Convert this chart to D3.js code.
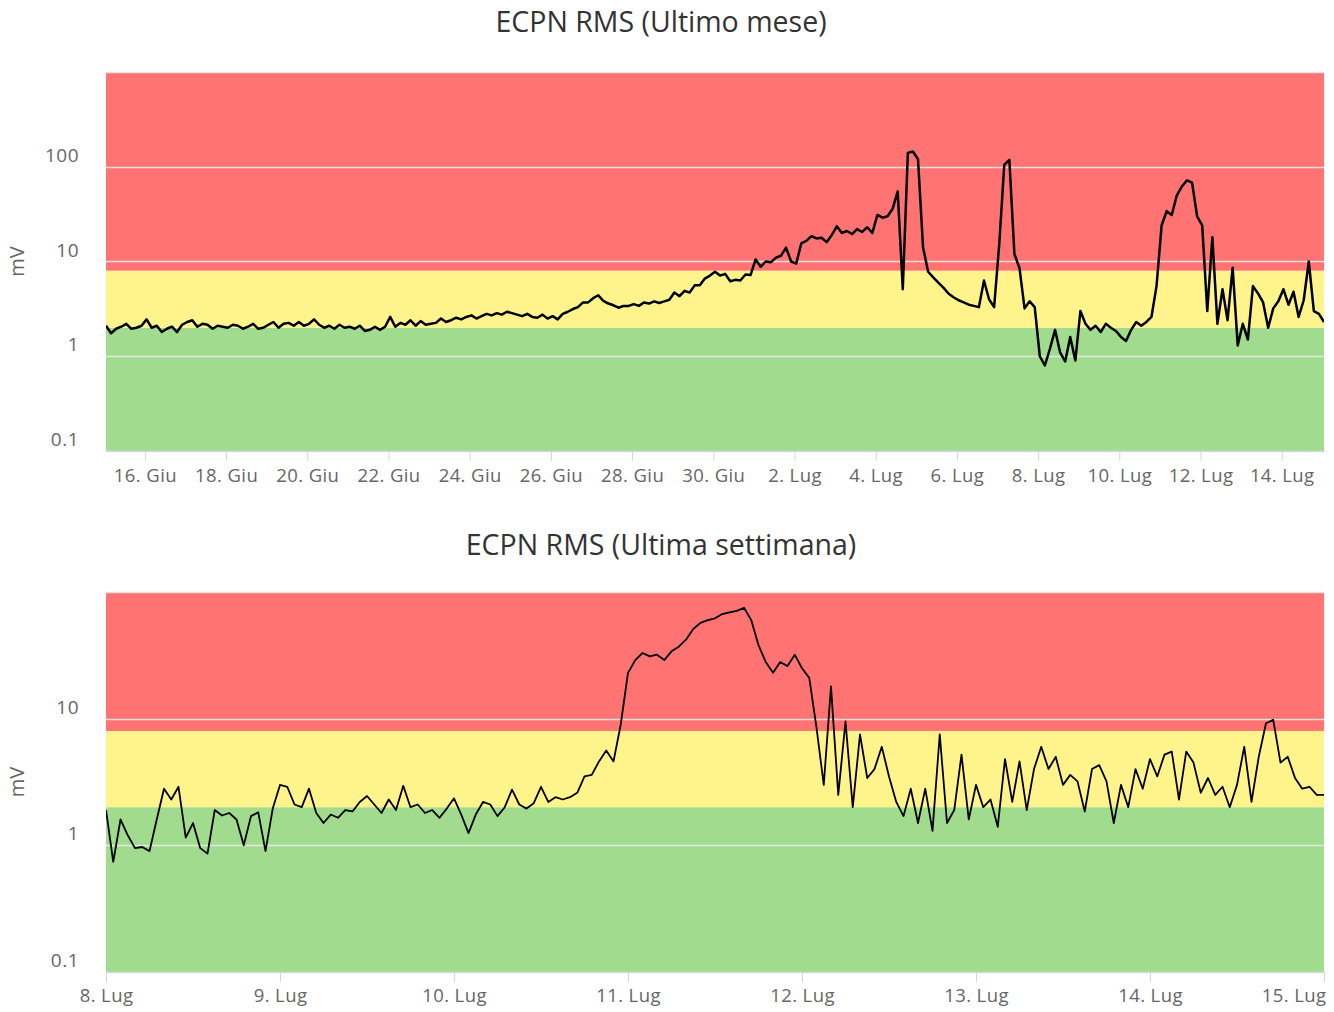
<!DOCTYPE html>
<html>
<head>
<meta charset="utf-8">
<script src="https://cdn.jsdelivr.net/npm/d3@7"></script>
<style>
  html, body { margin: 0; padding: 0; background: #ffffff; }
  svg { display: block; font-family: "Open Sans", "DejaVu Sans", sans-serif; }
</style>
</head>
<body>
<svg id="chart" width="1334" height="1012"></svg>
<script>
// ---------------- DATA ----------------
const monthTitle = "ECPN RMS (Ultimo mese)";
const weekTitle = "ECPN RMS (Ultima settimana)";
const yAxisTitle = "mV";
const monthNamesIt = ["Gen","Feb","Mar","Apr","Mag","Giu","Lug","Ago","Set","Ott","Nov","Dic"];

// thresholds of the coloured zones (mV)
const zoneLimits = [2, 8];

// Monthly series: one sample every 3 hours from 15 Jun 01:00
const monthStart = "2018-06-15 01:00";
const monthStepHours = 3;
const monthValues = [
  2.1, 1.75, 1.95, 2.05, 2.2, 1.95, 2.0, 2.1,
  2.45, 2.0, 2.1, 1.8, 1.95, 2.05, 1.8, 2.15,
  2.3, 2.4, 2.05, 2.2, 2.15, 1.95, 2.1, 2.05,
  2.0, 2.15, 2.1, 1.95, 2.05, 2.2, 1.95, 2.0,
  2.15, 2.3, 2.0, 2.2, 2.25, 2.1, 2.3, 2.1,
  2.2, 2.45, 2.15, 2.0, 2.1, 1.95, 2.15, 2.0,
  2.05, 1.95, 2.1, 1.85, 1.9, 2.05, 1.9, 2.05,
  2.6, 2.05, 2.25, 2.15, 2.4, 2.1, 2.35, 2.15,
  2.2, 2.25, 2.5, 2.3, 2.4, 2.55, 2.45, 2.6,
  2.7, 2.5, 2.65, 2.8, 2.7, 2.85, 2.75, 2.95,
  2.85, 2.75, 2.65, 2.8, 2.6, 2.55, 2.75, 2.5,
  2.65, 2.45, 2.8, 2.95, 3.15, 3.3, 3.7, 3.7,
  4.1, 4.4, 3.85, 3.6, 3.45, 3.25, 3.4, 3.4,
  3.55, 3.4, 3.7, 3.6, 3.8, 3.65, 3.8, 3.95,
  4.7, 4.3, 4.9, 4.7, 5.6, 5.6, 6.6, 7.1,
  7.8, 7.1, 7.4, 6.2, 6.4, 6.3, 7.3, 7.2,
  10.5, 8.8, 10.0, 9.8, 11.0, 11.5, 14.0, 10.0,
  9.5, 15.5, 16.5, 18.5, 17.5, 17.8, 16.0, 19.0,
  23.5, 20.0, 21.0, 19.5, 22.0, 20.5, 23.0, 20.0,
  31, 29, 30, 36, 55, 5.1, 140, 145,
  120, 14, 7.8, 6.8, 6.0, 5.3, 4.6, 4.2,
  3.9, 3.7, 3.5, 3.4, 3.3, 6.3, 4.0, 3.3,
  15, 105, 118, 12, 8.5, 3.2, 3.8, 3.3,
  1.0, 0.8, 1.2, 1.9, 1.1, 0.88, 1.6, 0.9,
  3.0, 2.2, 1.9, 2.1, 1.8, 2.2, 2.0, 1.85,
  1.6, 1.45, 1.9, 2.3, 2.1, 2.3, 2.6, 5.5,
  24, 34, 31, 50, 62, 72, 68, 30,
  24, 3.0, 18, 2.2, 5.1, 2.4, 8.6, 1.3,
  2.2, 1.5, 5.5, 4.6, 3.7, 2.0, 3.2, 3.8,
  5.1, 3.5, 4.8, 2.6, 3.9, 10.0, 3.0, 2.8,
  2.3
];
const monthTickDates = ["2018-06-16","2018-06-18","2018-06-20","2018-06-22","2018-06-24","2018-06-26",
  "2018-06-28","2018-06-30","2018-07-02","2018-07-04","2018-07-06","2018-07-08","2018-07-10",
  "2018-07-12","2018-07-14"];
const monthYTicks = [0.1, 1, 10, 100];
const monthYRange = [0.1, 1000];

// Weekly series: one sample every hour from 8 Jul 00:00
const weekStart = "2018-07-08 00:00";
const weekStepHours = 1;
const weekValues = [
  1.9, 0.74, 1.6, 1.2, 0.95, 0.97, 0.9, 1.6, 2.8, 2.3,
  2.9, 1.15, 1.5, 0.95, 0.86, 1.9, 1.72, 1.8, 1.6, 1.0,
  1.7, 1.82, 0.9, 1.95, 3.0, 2.9, 2.1, 2.0, 2.8, 1.8,
  1.5, 1.75, 1.65, 1.9, 1.85, 2.2, 2.45, 2.1, 1.8, 2.3,
  1.9, 2.95, 2.0, 2.1, 1.8, 1.9, 1.65, 1.95, 2.35, 1.75,
  1.25, 1.75, 2.2, 2.1, 1.7, 2.0, 2.75, 2.1, 1.95, 2.15,
  2.9, 2.2, 2.4, 2.3, 2.4, 2.6, 3.5, 3.6, 4.6, 5.6,
  4.6, 9.0, 23, 29, 33, 31, 32, 29, 34, 37,
  42, 51, 57, 60, 62, 67, 69, 71, 75, 60,
  38, 28, 23, 28, 26, 32, 25, 21, 8.5, 3.0,
  18, 2.5, 9.5, 2.0, 7.5, 3.4, 4.0, 6.0, 3.5, 2.2,
  1.7, 2.8, 1.5, 2.8, 1.3, 7.5, 1.5, 1.9, 5.2, 1.6,
  3.0, 2.0, 2.3, 1.4, 4.8, 2.2, 4.6, 1.9, 4.0, 6.0,
  4.0, 5.0, 3.0, 3.6, 3.2, 1.85, 4.0, 4.3, 3.2, 1.5,
  3.0, 2.0, 4.0, 2.8, 4.8, 3.5, 5.2, 5.5, 2.3, 5.5,
  4.5, 2.6, 3.4, 2.5, 2.9, 2.0, 3.0, 6.0, 2.2, 5.0,
  9.2, 9.8, 4.5, 5.0, 3.4, 2.8, 2.9, 2.5, 2.5
];
const weekTickDates = ["2018-07-08","2018-07-09","2018-07-10","2018-07-11","2018-07-12",
  "2018-07-13","2018-07-14","2018-07-15"];
const weekYTicks = [0.1, 1, 10];
const weekYRange = [0.1, 100];

// ---------------- DRAWING ----------------
const parseDT = d3.timeParse("%Y-%m-%d %H:%M");
const parseD = d3.timeParse("%Y-%m-%d");
const fmtTick = d => d.getDate() + ". " + monthNamesIt[d.getMonth()];
const fmtY = d => (d < 1 ? d3.format(".1f")(d) : d3.format("d")(d));

function buildSeries(start, stepH, values) {
  const t0 = parseDT(start);
  return values.map((v, i) => ({ t: d3.timeHour.offset(t0, i * stepH), v }));
}

const COLORS = { red: "#ff7373", yellow: "#fff48b", green: "#a0db8e" };
const svg = d3.select("#chart");
svg.append("rect").attr("width", 1334).attr("height", 1012).attr("fill", "#ffffff");

function drawChart(cfg) {
  const g = svg.append("g");
  const L = 106, R = 1324;
  const series = buildSeries(cfg.start, cfg.step, cfg.values);
  const x = d3.scaleTime().domain(d3.extent(series, d => d.t)).range([L, R]);
  if (cfg.xDomain) x.domain(cfg.xDomain);
  const y = d3.scaleLog().domain(cfg.yRange).range([cfg.bottom, cfg.top]);

  // title
  g.append("text").attr("x", 661).attr("y", cfg.titleY)
    .attr("text-anchor", "middle").attr("fill", "#333333")
    .attr("font-size", 28.5).text(cfg.title);

  // zone bands
  const zones = [
    { lo: cfg.yRange[0], hi: zoneLimits[0], c: COLORS.green },
    { lo: zoneLimits[0], hi: zoneLimits[1], c: COLORS.yellow },
    { lo: zoneLimits[1], hi: cfg.yRange[1], c: COLORS.red }
  ];
  g.selectAll("rect.zone").data(zones).join("rect")
    .attr("x", L).attr("width", R - L)
    .attr("y", d => y(d.hi)).attr("height", d => y(d.lo) - y(d.hi))
    .attr("fill", d => d.c);

  // grid lines at every decade
  const decades = y.ticks().filter(v => Math.abs(Math.log10(v) - Math.round(Math.log10(v))) < 1e-9);
  g.selectAll("line.grid").data(decades).join("line")
    .attr("x1", L).attr("x2", R)
    .attr("y1", d => Math.round(y(d)) + 0.5).attr("y2", d => Math.round(y(d)) + 0.5)
    .attr("stroke", "#ebebeb").attr("stroke-width", 1.5).attr("opacity", 0.9);

  // y labels
  g.selectAll("text.ylab").data(cfg.yTicks).join("text")
    .attr("x", 79).attr("y", d => y(d) - 5)
    .attr("text-anchor", "end").attr("fill", "#666666").attr("font-size", 19)
    .attr("letter-spacing", 0.5)
    .text(fmtY);

  // y axis title
  const yMid = (cfg.top + cfg.bottom) / 2;
  g.append("text").attr("transform", `translate(24,${yMid}) rotate(-90)`)
    .attr("text-anchor", "middle").attr("fill", "#666666").attr("font-size", 20)
    .text(yAxisTitle);

  // x axis via d3.axisBottom
  const ticks = cfg.xTicks.map(parseD);
  const axis = d3.axisBottom(x).tickValues(ticks).tickFormat(fmtTick)
    .tickSize(10).tickSizeOuter(0).tickPadding(cfg.tickPad);
  const ax = g.append("g").attr("transform", `translate(0,${cfg.bottom})`).call(axis);
  ax.select(".domain").attr("stroke", "#ccd6eb");
  ax.selectAll(".tick line").attr("stroke", "#ccd6eb");
  ax.selectAll(".tick text").attr("fill", "#666666").attr("font-size", 18.5)
    .attr("letter-spacing", 0.4)
    .attr("font-family", "\"Open Sans\", sans-serif");
  // justify last label inside the chart if it overflows
  ax.selectAll(".tick text").each(function(d) {
    const bb = this.getBBox();
    const px = x(d);
    if (px + bb.width / 2 > 1326) {
      d3.select(this).attr("text-anchor", "end").attr("x", 1326 - px);
    }
  });

  // clip
  const clipId = "clip" + cfg.top;
  g.append("clipPath").attr("id", clipId).append("rect")
    .attr("x", L).attr("y", cfg.top).attr("width", R - L).attr("height", cfg.bottom - cfg.top);

  const line = d3.line().x(d => x(d.t)).y(d => y(d.v)).curve(d3.curveLinear);
  g.append("path").datum(series)
    .attr("clip-path", `url(#${clipId})`)
    .attr("d", line).attr("fill", "none")
    .attr("stroke", "#000000").attr("stroke-width", cfg.lw)
    .attr("stroke-linejoin", "round");
}

drawChart({
  title: monthTitle, titleY: 32, top: 72, bottom: 451,
  start: monthStart, step: monthStepHours, values: monthValues,
  yRange: monthYRange, yTicks: monthYTicks, xTicks: monthTickDates, tickPad: 8, lw: 2.5
});
drawChart({
  title: weekTitle, titleY: 555, top: 592, bottom: 972,
  start: weekStart, step: weekStepHours, values: weekValues,
  xDomain: [parseD("2018-07-08"), parseD("2018-07-15")],
  yRange: weekYRange, yTicks: weekYTicks, xTicks: weekTickDates, tickPad: 7, lw: 1.8
});
</script>
</body>
</html>
